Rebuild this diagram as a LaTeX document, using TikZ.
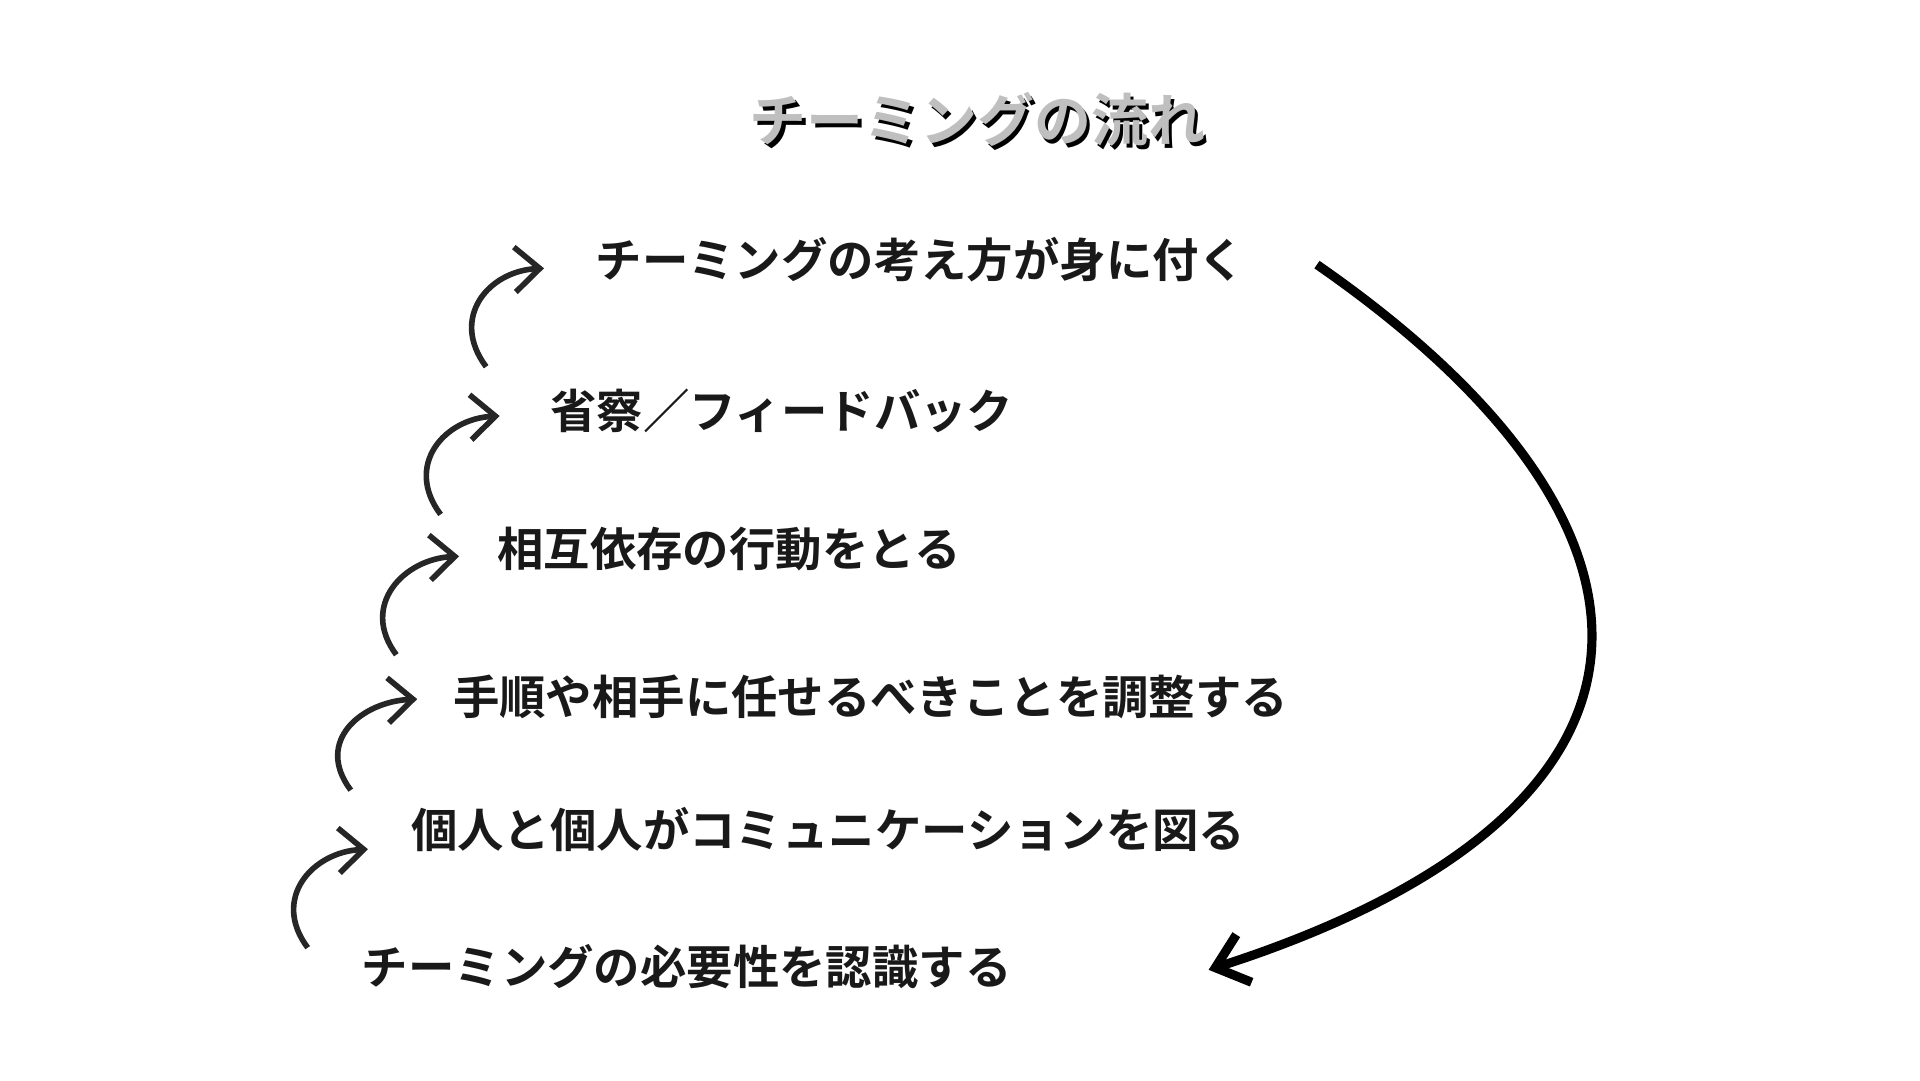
\documentclass[tikz,border=0pt]{standalone}
\usepackage{fontspec}
\setmainfont{Noto Sans CJK JP}
\newfontfamily\jpbold{Noto Sans CJK JP Bold}
\usetikzlibrary{arrows.meta}
\tikzset{
  stepnode/.style={anchor=west, font=\jpbold\fontsize{13.2}{15}\selectfont, text=black!90},
  titlefont/.style={font=\jpbold\fontsize{16.2}{18}\selectfont},
  hook/.style={line width=1.6pt, draw=black!85, -{Straight Barb[length=2.5mm,width=4.5mm]}}
}
\begin{document}
\begin{tikzpicture}[x=0.12308mm,y=-0.12308mm]
	\useasboundingbox (0,0) rectangle (1560,878);
	% title
	\node[titlefont, text=black] (shadow) at (797,100) {チーミングの流れ};
	\node[titlefont, text=black!25] (title) at (794,97) {チーミングの流れ};
	% steps
	\node[stepnode] (s6) at (474,211) {チーミングの考え方が身に付く};
	\node[stepnode] (s5) at (437,334) {省察／フィードバック};
	\node[stepnode] (s4) at (394,446) {相互依存の行動をとる};
	\node[stepnode] (s3) at (358,566) {手順や相手に任せるべきことを調整する};
	\node[stepnode] (s2) at (324,674) {個人と個人がコミュニケーションを図る};
	\node[stepnode] (s1) at (284,785) {チーミングの必要性を認識する};

	% small hooks
	\coordinate (h5) at (395,298);  \coordinate (e5) at (442,218);
	\coordinate (h4) at (358,418);  \coordinate (e4) at (406,338);
	\coordinate (h3) at (322,532);  \coordinate (e3) at (373,452);
	\coordinate (h2) at (285,642);  \coordinate (e2) at (339,568);
	\coordinate (h1) at (250,770);  \coordinate (e1) at (299,690);
	\foreach \i in {1,...,5}
	  \draw[hook] (h\i) .. controls +(-30,-40) and +(-45,2) .. (e\i);

	% back to start
	\coordinate (top) at (1070,215);
	\coordinate (bot) at (982,788);
	\draw[line width=2.6pt, -{Straight Barb[length=3mm,width=5mm]}]
	  (top) .. controls (1380,430) and (1380,660) .. (bot);
\end{tikzpicture}
\end{document}
